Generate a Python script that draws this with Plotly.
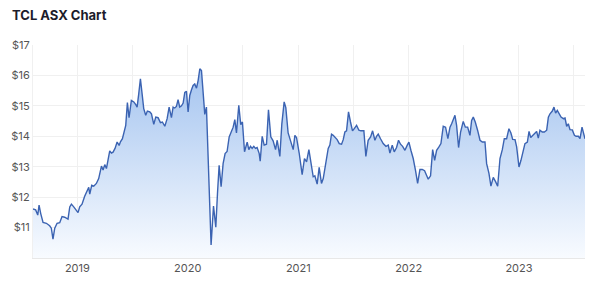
import plotly.graph_objects as go
from datetime import datetime, timedelta

# time of each observation, in decimal years
years_decimal = [
    2018.598, 2018.622, 2018.641, 2018.653, 2018.668, 2018.689, 2018.719, 2018.749, 2018.764, 2018.779,
    2018.795, 2018.816, 2018.840, 2018.861, 2018.885, 2018.915, 2018.931, 2018.946, 2018.967, 2018.991,
    2019.006, 2019.021, 2019.042, 2019.066, 2019.088, 2019.103, 2019.112, 2019.130, 2019.148, 2019.172,
    2019.193, 2019.218, 2019.233, 2019.248, 2019.263, 2019.278, 2019.293, 2019.308, 2019.323, 2019.341,
    2019.360, 2019.378, 2019.390, 2019.408, 2019.423, 2019.438, 2019.453, 2019.468, 2019.489, 2019.511,
    2019.529, 2019.541, 2019.556, 2019.571, 2019.586, 2019.601, 2019.619, 2019.634, 2019.656, 2019.671,
    2019.692, 2019.710, 2019.731, 2019.752, 2019.770, 2019.792, 2019.813, 2019.831,
    2019.852, 2019.867, 2019.882, 2019.897, 2019.912, 2019.927, 2019.943, 2019.958, 2019.973, 2019.988,
    2020.003, 2020.018, 2020.033, 2020.048, 2020.063, 2020.079, 2020.094, 2020.109, 2020.124, 2020.139,
    2020.154, 2020.169, 2020.211, 2020.233, 2020.254, 2020.269, 2020.284, 2020.302,
    2020.320, 2020.338, 2020.356, 2020.375, 2020.396, 2020.411, 2020.426, 2020.441, 2020.462, 2020.480,
    2020.495, 2020.514, 2020.538, 2020.553, 2020.568, 2020.583, 2020.598, 2020.613, 2020.628, 2020.647,
    2020.656, 2020.674, 2020.692, 2020.713, 2020.731, 2020.752, 2020.773, 2020.795, 2020.810, 2020.834,
    2020.852, 2020.873, 2020.888, 2020.909, 2020.931, 2020.955, 2020.970, 2020.985, 2021.009, 2021.036,
    2021.057, 2021.076, 2021.097,
    2021.121, 2021.136, 2021.151, 2021.172, 2021.190, 2021.211, 2021.227, 2021.251, 2021.272, 2021.287,
    2021.302, 2021.317, 2021.332, 2021.353, 2021.372, 2021.393, 2021.408, 2021.423, 2021.438, 2021.456,
    2021.474, 2021.492, 2021.508, 2021.529, 2021.550, 2021.568, 2021.595, 2021.613, 2021.634, 2021.656,
    2021.674, 2021.695, 2021.710, 2021.725, 2021.746, 2021.770, 2021.795, 2021.816, 2021.831, 2021.852,
    2021.870, 2021.891, 2021.909, 2021.927, 2021.946, 2021.967, 2021.988, 2022.003, 2022.021, 2022.042,
    2022.063, 2022.082, 2022.103, 2022.124, 2022.145, 2022.163, 2022.178, 2022.199, 2022.218, 2022.236,
    2022.254, 2022.275, 2022.293, 2022.314, 2022.335, 2022.356, 2022.375,
    2022.390, 2022.420, 2022.435, 2022.453, 2022.471, 2022.495, 2022.514, 2022.535, 2022.556, 2022.571,
    2022.586, 2022.604, 2022.625, 2022.647, 2022.668, 2022.692, 2022.707, 2022.728, 2022.746, 2022.767,
    2022.789, 2022.807, 2022.828, 2022.849, 2022.867, 2022.888, 2022.909, 2022.927, 2022.943, 2022.964,
    2022.979, 2023.000, 2023.018, 2023.039, 2023.054, 2023.076, 2023.091, 2023.106, 2023.124, 2023.145,
    2023.160, 2023.175, 2023.190, 2023.211, 2023.230, 2023.251, 2023.266, 2023.281, 2023.302, 2023.317,
    2023.332, 2023.347, 2023.363, 2023.381, 2023.402, 2023.417, 2023.432, 2023.447, 2023.462, 2023.483,
    2023.502, 2023.517, 2023.538, 2023.553, 2023.571, 2023.583, 2023.598,
]

# share price, AUD
prices = [
    11.61, 11.58, 11.41, 11.74, 11.46, 11.17, 11.14, 11.06, 10.98, 10.62,
    10.98, 11.14, 11.16, 11.36, 11.34, 11.28, 11.68, 11.77, 11.68, 11.57,
    11.49, 11.68, 11.77, 12.03, 12.18, 12.32, 12.10, 12.39, 12.36, 12.45,
    12.61, 13.02, 12.89, 13.07, 12.94, 13.27, 13.52, 13.45, 13.48, 13.60,
    13.81, 13.70, 13.82, 13.92, 14.14, 14.36, 15.11, 14.61, 15.18, 15.13,
    15.04, 14.96, 15.40, 15.89, 15.40, 14.91, 14.69, 14.83, 14.80, 14.74,
    14.39, 14.63, 14.61, 14.45, 14.47, 14.33, 14.58, 14.96,
    14.61, 14.96, 14.93, 14.98, 15.20, 14.96, 15.00, 15.09, 15.44, 15.48,
    14.80, 15.34, 15.52, 15.67, 15.72, 15.58, 15.84, 16.22, 16.16, 15.44,
    14.72, 14.96, 10.43, 11.71, 11.01, 12.12, 13.05, 12.34,
    13.10, 13.43, 13.50, 13.98, 14.14, 14.30, 14.55, 14.11, 15.02, 14.38,
    14.47, 13.49, 13.81, 13.56, 13.67, 13.60, 13.67, 13.60, 13.63, 13.43,
    13.18, 14.00, 13.71, 13.74, 14.87, 13.98, 13.85, 13.56, 13.87, 13.34,
    14.41, 15.13, 14.94, 14.11, 13.85, 13.56, 14.03, 13.96, 13.45, 12.74,
    13.27, 13.16, 13.56,
    13.00, 12.67, 12.70, 12.43, 12.98, 12.45, 12.61, 13.21, 13.60, 13.71,
    14.07, 14.03, 13.96, 13.89, 13.76, 13.74, 13.89, 14.14, 14.18, 14.80,
    14.47, 14.18, 14.25, 14.36, 14.20, 14.18, 14.18, 13.34, 13.87, 13.98,
    14.18, 13.87, 14.00, 14.07, 13.92, 13.76, 13.67, 13.71, 13.45, 13.71,
    13.49, 13.63, 13.87, 13.74, 13.67, 13.54, 13.71, 13.81, 13.54, 13.27,
    12.87, 12.45, 12.91, 12.91, 12.87, 12.70, 12.59, 12.70, 13.56, 13.21,
    13.54, 13.65, 13.76, 14.33, 14.30, 13.92, 14.30,
    14.41, 14.69, 14.36, 13.63, 14.14, 14.49, 14.30, 14.30, 14.03, 14.52,
    14.63, 14.47, 14.20, 13.87, 13.81, 13.81, 13.10, 12.78, 12.36, 12.65,
    12.50, 12.36, 13.27, 13.56, 13.92, 13.92, 14.25, 14.11, 13.90, 13.89,
    13.65, 12.99, 13.21, 13.54, 13.76, 13.81, 14.16, 13.96, 14.03, 14.11,
    14.16, 13.94, 14.20, 14.14, 14.14, 14.20, 14.63, 14.74, 14.83, 14.96,
    14.76, 14.85, 14.76, 14.63, 14.58, 14.60, 14.33, 14.41, 14.22, 14.21,
    14.03, 14.00, 14.00, 13.92, 14.30, 14.11, 13.92,
]

x_grid_dates = ["2019-01-01", "2019-07-01", "2020-01-01", "2020-07-01", "2021-01-01",
                "2021-07-01", "2022-01-01", "2022-07-01", "2023-01-01", "2023-07-01"]
x_tick_labels = ["2019", "", "2020", "", "2021", "", "2022", "", "2023", ""]
y_tick_values = [11, 12, 13, 14, 15, 16, 17]
y_tick_labels = ["$11", "$12", "$13", "$14", "$15", "$16", "$17"]
y_range = [10, 17]

dates = [datetime(2019, 1, 1) + timedelta(days=(t - 2019) * 365.25) for t in years_decimal]

fig = go.Figure(
    go.Scatter(
        x=dates,
        y=prices,
        mode="lines",
        line=dict(color="#3b63b2", width=1.4),
        fill="tozeroy",
        fillgradient=dict(
            type="vertical",
            colorscale=[[0, "#f8fbff"], [1, "#a3c3ef"]],
            start=y_range[0],
            stop=16.3,
        ),
        hoverinfo="skip",
    )
)

grid = "#f0f0f0"
fig.update_layout(
    width=602,
    height=286,
    margin=dict(l=33, r=17, t=45, b=28),
    paper_bgcolor="white",
    plot_bgcolor="white",
    showlegend=False,
    font=dict(family="Inter, Roboto, Arial, sans-serif", size=11, color="#555555"),
    title=dict(
        text="<b>TCL ASX Chart</b>",
        xref="container",
        yref="container",
        x=12 / 602,
        y=1 - 15 / 286,
        xanchor="left",
        yanchor="middle",
        font=dict(family="Inter, Roboto, Arial, sans-serif", size=13, color="#1c1c2b"),
    ),
    xaxis=dict(
        type="date",
        range=[dates[0], dates[-1]],
        tickmode="array",
        tickvals=x_grid_dates,
        ticktext=x_tick_labels,
        showgrid=True,
        gridcolor=grid,
        gridwidth=1,
        showline=True,
        linecolor="#e8e8e8",
        linewidth=1,
        ticks="",
        zeroline=False,
        tickfont=dict(size=11, color="#555555"),
    ),
    yaxis=dict(
        range=y_range,
        tickmode="array",
        tickvals=y_tick_values,
        ticktext=y_tick_labels,
        showgrid=True,
        gridcolor=grid,
        gridwidth=1,
        showline=True,
        linecolor=grid,
        ticks="",
        zeroline=False,
        tickfont=dict(size=11, color="#555555"),
    ),
)

fig.write_html("out.html")
